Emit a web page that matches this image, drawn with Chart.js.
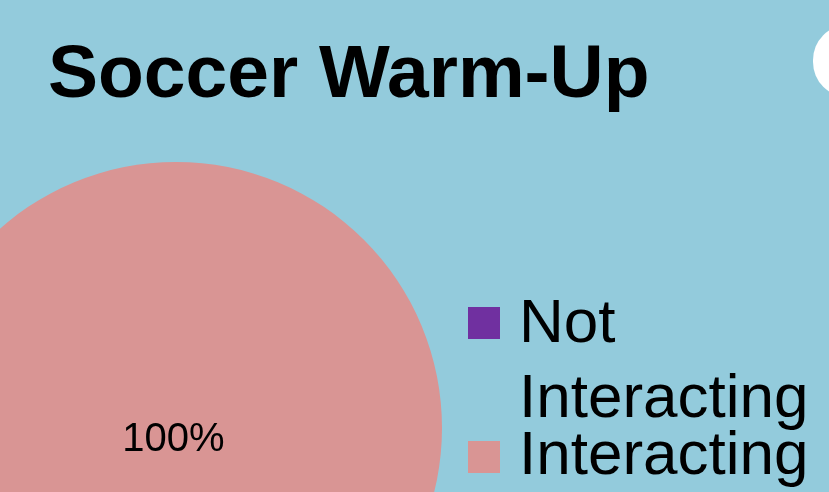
<!DOCTYPE html>
<html>
<head>
<meta charset="utf-8">
<script src="https://cdn.jsdelivr.net/npm/chart.js@4"></script>
<style>
  html, body { margin: 0; padding: 0; }
  body {
    width: 829px; height: 492px; overflow: hidden; position: relative;
    background: #93cbdc; font-family: "Liberation Sans", Arial, sans-serif; color: #000;
  }
  #title {
    position: absolute; left: 48px; top: 34px; margin: 0;
    font-size: 75px; font-weight: bold; line-height: 75px; white-space: nowrap;
  }
  #blob {
    position: absolute; left: 813px; top: 25px; width: 70px; height: 72px;
    background: #fff; border-radius: 36px;
  }
  #pieBox { position: absolute; left: -90px; top: 162px; width: 532px; height: 532px; }
  #legend { position: absolute; left: 468px; top: 0; }
  .sw { position: absolute; width: 32px; height: 32px; }
  .lt { position: absolute; left: 51px; font-size: 62px; line-height: 62px; white-space: nowrap; }
</style>
</head>
<body>
<div id="title">Soccer Warm-Up</div>
<div id="blob"></div>
<div id="pieBox"><canvas id="myPieChart"></canvas></div>
<div id="legend"></div>
<script>
var categories = ["Not Interacting", "Interacting"];
var legendLines = [["Not", "Interacting"], ["Interacting"]];
var values = [0, 100];
var percentLabels = ["0%", "100%"];
var colors = ["#7030a0", "#d99594"];

document.addEventListener("DOMContentLoaded", function() {
    // legend built from the same arrays
    var legend = document.getElementById("legend");
    var swatchTops = [307, 441];
    var textTops = [[290, 365], [422]];
    categories.forEach(function(cat, i) {
        var sw = document.createElement("div");
        sw.className = "sw";
        sw.style.top = swatchTops[i] + "px";
        sw.style.background = colors[i];
        legend.appendChild(sw);
        legendLines[i].forEach(function(line, j) {
            var t = document.createElement("div");
            t.className = "lt";
            t.style.top = textTops[i][j] + "px";
            t.textContent = line;
            legend.appendChild(t);
        });
    });

    var sliceLabels = {
        id: "sliceLabels",
        afterDatasetsDraw: function(chart) {
            var ctx = chart.ctx;
            var meta = chart.getDatasetMeta(0);
            ctx.save();
            ctx.font = "40px 'Liberation Sans', Arial, sans-serif";
            ctx.fillStyle = "#000";
            ctx.textAlign = "center";
            ctx.textBaseline = "middle";
            meta.data.forEach(function(arc, i) {
                if (!values[i]) return;
                var r = arc.outerRadius;
                ctx.fillText(percentLabels[i], arc.x - r * 0.01, arc.y + r * 0.045);
            });
            ctx.restore();
        }
    };

    var ctx = document.getElementById("myPieChart").getContext('2d');
    new Chart(ctx, {
        type: 'pie',
        data: {
            labels: categories,
            datasets: [{
                data: values,
                backgroundColor: colors,
                borderWidth: 0
            }]
        },
        options: {
            responsive: true,
            maintainAspectRatio: false,
            animation: false,
            layout: { padding: 0 },
            plugins: {
                legend: { display: false },
                title: { display: false },
                tooltip: { enabled: false }
            }
        },
        plugins: [sliceLabels]
    });
});
</script>
</body>
</html>
